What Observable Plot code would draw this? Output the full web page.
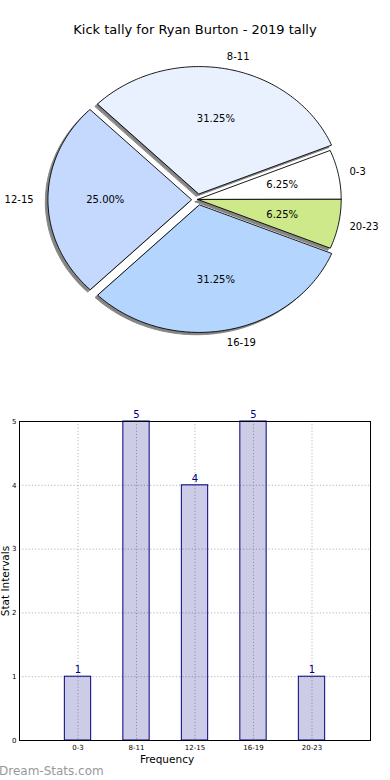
<!DOCTYPE html>
<html><head><meta charset="utf-8">
<script src="https://cdn.jsdelivr.net/npm/d3@7"></script>
<script src="https://cdn.jsdelivr.net/npm/@observablehq/plot@0.6"></script>
<style>
body{margin:0;background:#fff;font-family:"DejaVu Sans",sans-serif}
#wrap{position:relative;width:390px;height:780px;overflow:hidden;background:#fff}
#title{position:absolute;top:21px;left:0;width:390px;text-align:center;font-size:13px;color:#000;line-height:18px}
#pie{position:absolute;top:0;left:0}
#bar{position:absolute;top:400px;left:0}
#wm{position:absolute;left:-1px;top:763px;font-size:12px;color:#999;line-height:17px}
</style></head><body>
<div id="wrap"><div id="pie"></div><div id="bar"></div><div id="title">Kick tally for Ryan Burton - 2019 tally</div><div id="wm">Dream-Stats.com</div></div>
<script>
const categories = ["0-3", "8-11", "12-15", "16-19", "20-23"];
const counts = [1, 5, 4, 5, 1];
const yTicks = [0, 1, 2, 3, 4, 5];
const sliceColors = ["#ffffff", "#eaf1fe", "#c5d9fe", "#b4d5fe", "#cde98a"];
const explode = [0, 0.045, 0.045, 0.045, 0];

const total = d3.sum(counts);
let acc = 0;
const slices = counts.map((v, i) => {
  const a0 = acc / total * 2 * Math.PI;
  acc += v;
  const a1 = acc / total * 2 * Math.PI;
  const m = (a0 + a1) / 2;
  const ox = explode[i] * Math.cos(m), oy = explode[i] * Math.sin(m);
  const n = Math.max(8, Math.ceil((a1 - a0) * 60));
  const pts = [{x: ox, y: oy}];
  for (let k = 0; k <= n; k++) {
    const a = a0 + (a1 - a0) * k / n;
    pts.push({x: ox + Math.cos(a), y: oy + Math.sin(a)});
  }
  return {
    cat: categories[i], v, m, ox, oy, pts, color: sliceColors[i],
    lx: ox + 1.1 * Math.cos(m), ly: oy + 1.1 * Math.sin(m),
    px: ox + 0.6 * Math.cos(m), py: oy + 0.6 * Math.sin(m),
    pct: (v / total * 100).toFixed(2) + "%"
  };
});

const pieMarks = [];
slices.forEach(s => {
  pieMarks.push(Plot.line(s.pts, {x: d => d.x - 0.018, y: d => d.y - 0.018, fill: "#858585", stroke: "#858585", strokeWidth: 1, curve: "linear-closed"}));
});
slices.forEach(s => {
  pieMarks.push(Plot.line(s.pts, {x: "x", y: "y", fill: s.color, stroke: "#000", strokeWidth: 0.9, curve: "linear-closed"}));
});
pieMarks.push(Plot.text(slices.filter(s => Math.cos(s.m) >= 0), {x: "lx", y: "ly", text: "cat", textAnchor: "start", dx: -3, fontSize: 10, fill: "#000"}));
pieMarks.push(Plot.text(slices.filter(s => Math.cos(s.m) < 0), {x: "lx", y: "ly", text: "cat", textAnchor: "end", fontSize: 10, fill: "#000"}));
pieMarks.push(Plot.text(slices, {x: "px", y: "py", text: "pct", fontSize: 10, fill: "#000"}));

const pie = Plot.plot({
  width: 390, height: 370, margin: 0,
  x: {domain: [-197.3 / 143.4, (390 - 197.3) / 143.4], axis: null},
  y: {domain: [(199 - 370) / 127.3, 199 / 127.3], axis: null},
  style: {fontFamily: "DejaVu Sans", fontSize: "10px", background: "transparent", overflow: "visible"},
  marks: pieMarks
});
document.getElementById("pie").appendChild(pie);

const idx = categories.map((c, i) => i);
const bars = counts.map((v, i) => ({i, v, cat: categories[i]}));
const grid = {stroke: "#b5b5b5", strokeOpacity: 1, strokeWidth: 1, strokeDasharray: "1.2,2"};
const bar = Plot.plot({
  width: 390, height: 380, marginTop: 21, marginBottom: 40, marginLeft: 19, marginRight: 20,
  x: {domain: [-1, 5], ticks: idx, tickFormat: i => categories[i], tickSize: 0, tickPadding: 5, label: null},
  y: {domain: [0, 5], ticks: yTicks, tickFormat: d => String(d), tickSize: 0, tickPadding: 3, label: null},
  style: {fontFamily: "DejaVu Sans", fontSize: "7px", background: "transparent", overflow: "visible", color: "#000"},
  marks: [
    Plot.ruleY(yTicks, {y: d => d, ...grid}),
    Plot.ruleX(idx, {x: d => d, ...grid}),
    Plot.rect(bars, {x1: d => d.i - 0.225, x2: d => d.i + 0.225, y1: 0, y2: "v", fill: "#000080", fillOpacity: 0.2, stroke: "#000080", strokeWidth: 1}),
    Plot.text(bars, {x: "i", y: "v", text: d => String(d.v), dy: -7, fontSize: 10, fill: "#000080"}),
    Plot.frame({stroke: "#000", strokeWidth: 1}),
    Plot.text(["Stat Intervals"], {frameAnchor: "left", text: d => d, textAnchor: "middle", rotate: -90, dx: -13.5, fontSize: 10.5, fill: "#000"}),
    Plot.text(["Frequency"], {frameAnchor: "bottom", text: d => d, textAnchor: "middle", dx: -28, dy: 22, fontSize: 10.5, fill: "#000"})
  ]
});
document.getElementById("bar").appendChild(bar);
</script>
</body></html>
